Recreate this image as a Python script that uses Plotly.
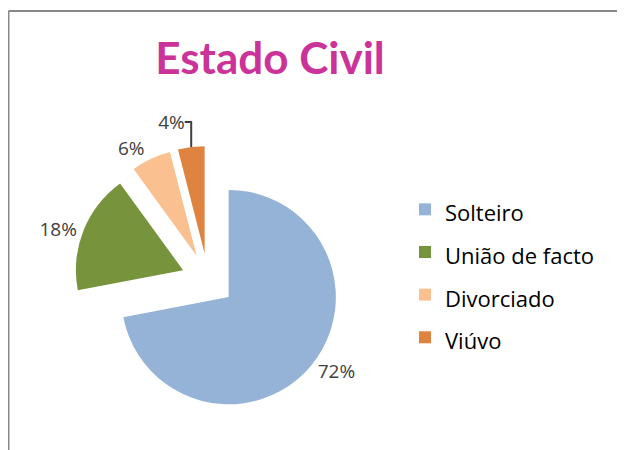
import plotly.graph_objects as go

categories = ["Solteiro", "União de facto", "Divorciado", "Viúvo"]
values = [72, 18, 6, 4]
colors = ["#95B3D7", "#77933C", "#FAC090", "#DE8340"]
pulls = [0.25, 0.25, 0.25, 0.25]

W, H = 625, 450
OFF = 8  # page body margin offset


def px(x):
    return (x - OFF) / W


def py(y):
    return 1 - (y - OFF) / H


legend_labels = ['<span style="font-size:22px">%s</span>' % c for c in categories]

fig = go.Figure(go.Pie(
    labels=legend_labels,
    values=values,
    marker=dict(colors=colors, line=dict(width=0)),
    pull=pulls,
    sort=False,
    direction="clockwise",
    rotation=0,
    textinfo="percent",
    textposition="outside",
    textfont=dict(family="Open Sans", size=19, color="#404040"),
    domain=dict(x=[px(74), px(342)], y=[py(414), py(146)]),
    hoverinfo="label+percent",
    automargin=False,
))

fig.update_layout(
    width=W, height=H,
    margin=dict(l=0, r=0, t=0, b=0, pad=0, autoexpand=False),
    paper_bgcolor="white",
    plot_bgcolor="white",
    title=dict(
        text="<b>Estado Civil</b>",
        font=dict(family="Lato", size=44, color="#CC3399"),
        x=px(270), xanchor="center",
        y=py(59), yanchor="middle", yref="container",
        automargin=False,
    ),
    showlegend=True,
    legend=dict(
        font=dict(family="Open Sans", size=30.5, color="#000000"),
        x=px(405), xanchor="left",
        y=py(183), yanchor="top",
        bgcolor="rgba(0,0,0,0)",
    ),
    shapes=[
        dict(type="line", xref="paper", yref="paper",
             x0=px(8.5), y0=0, x1=px(8.5), y1=py(11),
             line=dict(color="#888888", width=2)),
        dict(type="line", xref="paper", yref="paper",
             x0=px(8.5), y0=py(11), x1=1, y1=py(11),
             line=dict(color="#888888", width=2)),
    ],
)

fig.write_html("out.html")
